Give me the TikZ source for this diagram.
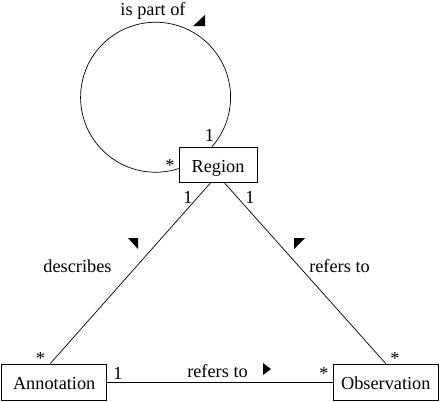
\documentclass[tikz,border=0pt]{standalone}
\usepackage{fontspec}
\setmainfont{Liberation Serif}
\begin{document}
\begin{tikzpicture}[x=1bp,y=-1bp,
  every node/.style={font=\fontsize{18.3bp}{22bp}\selectfont},
  cls/.style={draw,line width=0.7bp,inner sep=0pt,text height=16.5bp,text depth=1.5bp},
  lbl/.style={inner sep=0pt},
  assoc/.style={line width=0.7bp},
  dirmark/.style={fill=black}]
\useasboundingbox (0,0) rectangle (440,401);
% classes
\node[cls,minimum width=78bp,minimum height=35bp] (reg) at (218,164.5) {Region};
\node[cls,minimum width=105bp,minimum height=36bp] (ann) at (54.2,382) {Annotation};
\node[cls,minimum width=105bp,minimum height=36bp] (obs) at (385.8,382) {Observation};
% associations
\draw[assoc] ([xshift=-6bp]reg.north) arc[start angle=41.2,end angle=-288.4,radius=75];
\draw[assoc] ([xshift=-7bp]reg.south) -- ([xshift=-4bp]ann.north);
\draw[assoc] ([xshift=6bp]reg.south) -- (obs.north);
\draw[assoc] (ann.east) -- (obs.west);
% labels
\node[lbl,anchor=base] (lpart) at (153,15) {is part of};
\node[lbl,anchor=base] (ldesc) at (77.5,272) {describes};
\node[lbl,anchor=base] (lref1) at (339.5,272) {refers to};
\node[lbl,anchor=base] (lref2) at (217.5,377) {refers to};
% direction marks
\fill[dirmark] (205,15) -- (205,26) -- (193,26) -- cycle;
\fill[dirmark] (128,238) -- (138,238) -- (138,249) -- cycle;
\fill[dirmark] (294,238) -- (305,238) -- (294,249) -- cycle;
\fill[dirmark] (263,363) -- (263,375) -- (271,369) -- cycle;
% multiplicities
\node[lbl] (m1) at (209.5,135) {1};
\node[lbl,anchor=north] (m2) at (170,159) {*};
\node[lbl] (m3) at (188,197.5) {1};
\node[lbl] (m4) at (250,197.5) {1};
\node[lbl,anchor=north] (m5) at (40.5,352) {*};
\node[lbl,anchor=north] (m6) at (395,352) {*};
\node[lbl] (m7) at (118,373) {1};
\node[lbl,anchor=north] (m8) at (324,367) {*};
\end{tikzpicture}
\end{document}
